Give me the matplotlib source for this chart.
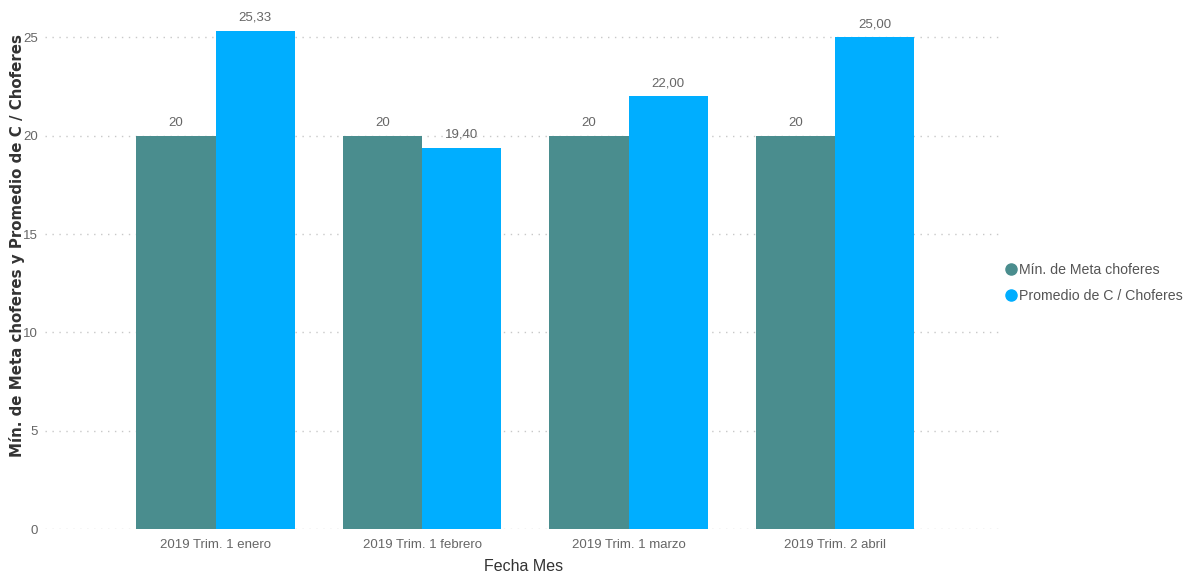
import matplotlib
matplotlib.use("Agg")
import matplotlib.pyplot as plt
from matplotlib.lines import Line2D
import numpy as np

plt.rcParams['font.family'] = ['Liberation Sans', 'DejaVu Sans']

# Datos
meses = ["2019 Trim. 1 enero", "2019 Trim. 1 febrero", "2019 Trim. 1 marzo", "2019 Trim. 2 abril"]
meta_choferes = [20, 20, 20, 20]
promedio_choferes = [25.33, 19.40, 22.00, 25.00]

color_meta = "#4A8D8E"
color_prom = "#00AEFF"
color_texto = "#666666"

fig = plt.figure(figsize=(11.89, 5.77), dpi=100)
ax = fig.add_axes([0.038, 0.083, 0.805, 0.90])

x = np.arange(len(meses))
ancho = 0.383

ax.bar(x - ancho / 2, meta_choferes, ancho, color=color_meta, zorder=3)
ax.bar(x + ancho / 2, promedio_choferes, ancho, color=color_prom, zorder=3)

# Etiquetas de valores
for xi, v in zip(x, meta_choferes):
    ax.text(xi - ancho / 2, v + 0.35, f"{v:d}", ha='center', va='bottom',
            fontsize=9.5, color=color_texto)
for xi, v in zip(x, promedio_choferes):
    ax.text(xi + ancho / 2, v + 0.35, f"{v:.2f}".replace('.', ','), ha='center', va='bottom',
            fontsize=9.5, color=color_texto)

ax.set_xlim(-0.825, 3.81)
ax.set_ylim(0, 26.4)
ax.set_yticks([0, 5, 10, 15, 20, 25])
ax.set_xticks(x)
ax.set_xticklabels(meses)
ax.tick_params(axis='both', length=0, labelsize=9.5, labelcolor=color_texto)
ax.tick_params(axis='y', pad=5)
ax.tick_params(axis='x', pad=7)

ax.grid(axis='y', color='#C8C8C8', linestyle=(0, (1, 4)), linewidth=1, zorder=0)
for s in ax.spines.values():
    s.set_visible(False)

ax.set_xlabel("Fecha Mes", fontsize=11.5, color='#333333', labelpad=6)
fig.text(0.0145, 0.575, "Mín. de Meta choferes y Promedio de C / Choferes", rotation=90,
         ha='center', va='center', fontsize=10.8, fontweight='bold', color='#333333',
         family=['DejaVu Sans'])

# Leyenda
handles = [
    Line2D([], [], marker='o', linestyle='', markersize=8, color=color_meta),
    Line2D([], [], marker='o', linestyle='', markersize=8, color=color_prom),
]
fig.legend(handles, ["Mín. de Meta choferes", "Promedio de C / Choferes"],
           loc='center left', bbox_to_anchor=(0.834, 0.51), frameon=False,
           fontsize=10.2, handletextpad=0.0, labelspacing=0.85, handlelength=1.0,
           labelcolor='#555555')

fig.savefig("out.png", dpi=100)
